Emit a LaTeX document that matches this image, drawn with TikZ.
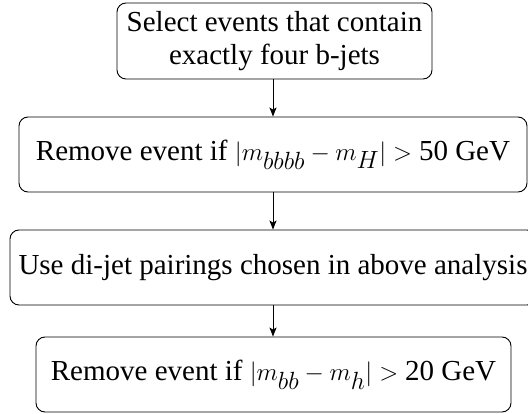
\documentclass[tikz,border=0pt]{standalone}
\usepackage{fontspec}
\setmainfont{Liberation Serif}
\usetikzlibrary{arrows.meta}
\tikzset{
  stepbox/.style={draw, rounded corners=9pt, line width=0.9pt, inner sep=0pt, align=center, font=\fontsize{29}{33}\selectfont},
  flow/.style={-{Stealth[length=9pt,width=7pt,inset=2pt]}, line width=1pt}
}
\begin{document}
\begin{tikzpicture}[x=1pt,y=-1pt]
\useasboundingbox (0,0) rectangle (528,414);
\node[stepbox, minimum width=315pt, minimum height=76pt] (s1) at (274.5,41) {Select events that contain\\exactly four b-jets};
\node[stepbox, minimum width=508pt, minimum height=75pt] (s2) at (273,154.5) {Remove event if $|m_{\textstyle bbbb} - m_{\textstyle H}| > \mbox{50}$ GeV};
\node[stepbox, minimum width=526pt, minimum height=75pt] (s3) at (273,267.5) {Use di-jet pairings chosen in above analysis};
\node[stepbox, minimum width=475pt, minimum height=75pt] (s4) at (273.5,374.5) {Remove event if $|m_{\textstyle bb} - m_{\textstyle h}| > \mbox{20}$ GeV};
\draw[flow] (s1.south -| 273,0) -- (s2.north -| 273,0);
\draw[flow] (s2.south) -- (s3.north);
\draw[flow] (s3.south) -- (s4.north -| s3.south);
\end{tikzpicture}
\end{document}
